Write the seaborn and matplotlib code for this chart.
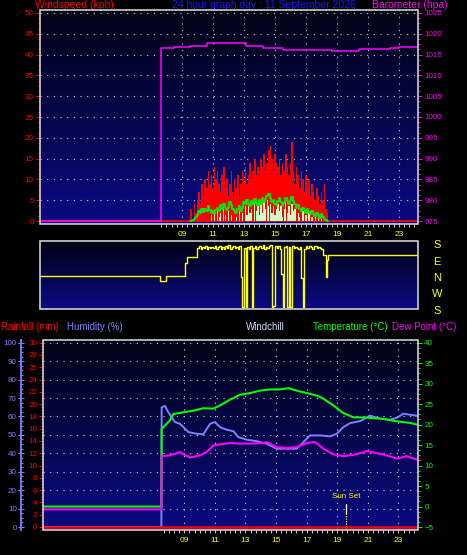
import numpy as np
import matplotlib
matplotlib.use("Agg")
import matplotlib.pyplot as plt
import seaborn as sns
from matplotlib.colors import LinearSegmentedColormap
from matplotlib.patches import Rectangle
from matplotlib.ticker import MultipleLocator, FixedLocator

# ---- data (hours of the day) ----
wind_hours = np.round(np.arange(9.5, 18.45, 0.1), 1)
wind_gust = [0, 3, 0, 4, 2, 5, 7, 4, 9, 6,
             10, 8, 12, 9, 11, 8, 13, 10, 12, 9,
             7, 11, 13, 8, 10, 6, 9, 12, 7, 10,
             8, 11, 6, 9, 12, 10, 13, 9, 11, 14,
             10, 12, 15, 11, 13, 12, 15, 13, 16, 12,
             14, 17, 18, 15, 12, 16, 14, 13, 15, 11,
             14, 12, 16, 13, 11, 14, 19, 12, 9, 13,
             11, 8, 12, 10, 7, 11, 8, 10, 6, 9,
             7, 5, 8, 6, 4, 7, 5, 9, 3, 2]
wind_speed = [0, 0, 0, 0, 0, 0, 0, 0, 0, 0,
              0, 0, 0, 0, 1.5, 0, 2.5, 0, 3.0, 1.0,
              2.0, 0, 3.5, 1.5, 0, 2.5, 0, 1.5, 0, 0,
              1.0, 0, 3.0, 0, 2.0, 0, 3.5, 1.5, 4.0, 2.0,
              3.0, 0, 4.5, 2.5, 3.5, 1.5, 4.0, 2.0, 4.5, 3.0,
              5.0, 3.5, 4.0, 2.0, 3.5, 1.5, 3.0, 4.0, 2.5, 3.5,
              1.0, 3.0, 4.5, 2.0, 3.5, 1.5, 4.0, 2.5, 3.0, 0,
              2.0, 1.0, 0, 2.5, 0, 1.5, 0, 2.0, 0, 1.0,
              0, 1.5, 0, 1.0, 0, 0.5, 0, 0, 0, 0]
wind_avg = [0, 0, 0.3, 0.5, 1.0, 1.5, 2.5, 2.0, 2.8, 2.2,
            3.0, 2.5, 3.5, 2.6, 2.0, 2.4, 1.8, 2.6, 3.2, 2.5,
            3.8, 3.0, 4.0, 3.2, 2.6, 3.4, 4.5, 3.8, 3.0, 2.4,
            2.0, 2.8, 3.5, 2.5, 3.2, 4.5, 4.0, 5.0, 4.2, 3.6,
            4.8, 4.0, 5.2, 4.4, 3.8, 5.0, 4.2, 5.5, 4.6, 5.2,
            6.0, 6.4, 5.5, 4.6, 5.0, 4.2, 3.8, 4.8, 5.5, 4.5,
            3.6, 4.4, 5.6, 4.8, 4.0, 5.0, 5.8, 4.8, 4.0, 3.2,
            3.8, 3.0, 2.4, 3.2, 2.6, 2.0, 2.8, 2.2, 1.6, 2.4,
            1.8, 1.2, 2.0, 1.4, 0.8, 1.6, 1.0, 0.4, 0.2, 0]

baro_hours = [-0.2, 7.65, 7.66, 8.5, 9.5, 10.6, 11.5, 12.1, 13.1, 14.2,
              15.5, 17.9, 18.7, 19.8, 20.4, 22.4, 23.0, 24.2]
baro_hpa = [975, 975, 1016.6, 1016.8, 1017.1, 1017.7, 1017.8, 1017.7, 1017.0, 1016.6,
            1016.2, 1016.0, 1015.8, 1015.8, 1016.4, 1016.6, 1016.8, 1016.8]

# wind direction: 0 = N, 90 = E, +/-180 = S, -90 = W
dir_early_hours = [-0.2, 7.58, 7.95, 9.19, 9.3]
dir_early_deg = [11, -16, 11, 82, 113]
dir_mid_hours = np.round(np.arange(10.0, 18.05, 0.1), 1)
dir_mid_deg = [165, 172, 160, 170, 163, 175, 158, 168, 162, 171,
               166, 174, 159, 168, 176, 161, 170, 157, 172, 165,
               178, 160, 169, 174, 162, 171, 158, 175, 5, -158,
               165, -158, 170, 158, 172, -160, 164, 176, 161, 170,
               175, 163, 178, 160, 171, 166, 176, 178, -160, -155,
               172, 165, 176, 160, 20, -158, 168, 174, -160, 170,
               -158, 175, 162, 171, 166, 158, 170, 0, -160, 160,
               172, 165, 176, 168, 161, 172, 174, 163, 170, 166,
               160]
dir_late_hours = [18.1, 18.3, 18.35, 18.4, 24.2]
dir_late_deg = [126, 5, 100, 126, 126]
dir_hours = dir_early_hours + list(dir_mid_hours) + dir_late_hours
dir_deg = dir_early_deg + dir_mid_deg + dir_late_deg

temp_hours = [-0.2, 7.5, 7.52, 8.06, 8.28, 8.94, 9.59, 10.24, 10.9, 11.34,
              11.99, 12.64, 13.3, 13.95, 14.6, 15.26, 15.8, 16.35, 17.0, 17.66,
              18.1, 18.74, 19.4, 20.05, 20.9, 22.0, 22.9, 23.8, 24.2]
temp_c = [0, 0, 19.0, 21.0, 22.6, 23.0, 23.4, 24.0, 23.9, 24.7,
          26.1, 27.3, 27.7, 28.3, 28.6, 28.6, 28.9, 28.3, 27.7, 27.1,
          26.3, 24.7, 22.8, 21.8, 21.7, 21.4, 20.8, 20.4, 20.0]

hum_hours = [-0.2, 7.5, 7.52, 7.74, 7.95, 8.17, 8.4, 8.72, 8.94, 9.27,
             9.81, 10.24, 10.68, 11.0, 11.34, 11.77, 12.21, 12.53, 13.08, 13.73,
             14.39, 15.04, 15.7, 16.35, 16.79, 17.22, 17.88, 18.53, 18.97, 19.4,
             19.84, 20.5, 21.14, 21.8, 22.45, 22.9, 23.32, 24.2]
hum_pct = [0, 0, 65, 65.7, 62.3, 59.6, 56.9, 56, 54.2, 51.5,
           50.6, 50.3, 56, 57, 54.2, 52.8, 52, 48.8, 47.4, 46.6,
           45.2, 42.5, 42.5, 42.5, 46.1, 49.7, 49.7, 49.2, 50.6, 54.2,
           56.4, 57.5, 60.5, 58.8, 58.2, 59.3, 61.5, 60.4]

dew_hours = [-0.2, 7.5, 7.52, 8.06, 8.72, 8.94, 9.38, 10.02, 10.46, 10.9,
             11.34, 11.99, 12.64, 13.3, 13.95, 14.39, 15.04, 15.7, 16.35, 17.0,
             17.55, 18.1, 18.74, 19.4, 20.27, 20.92, 21.58, 22.23, 22.88, 23.54,
             24.2]
dew_c = [-0.7, -0.7, 12.3, 12.5, 13.3, 12.75, 11.95, 12.5, 13.3, 14.9,
         15.2, 15.5, 15.35, 15.35, 15.5, 15.7, 14.5, 14.3, 14.5, 15.5,
         15.75, 14.1, 12.75, 12.3, 12.75, 13.55, 13.05, 12.5, 11.7, 12.3,
         11.45]

rain_hours = [-0.2, 24.2]
rain_mm = [0, 0]

sunset_hour = 19.6
hour_ticks = [9, 11, 13, 15, 17, 19, 21, 23]
hour_labels = ["09", "11", "13", "15", "17", "19", "21", "23"]
dir_labels = ["S", "E", "N", "W", "S"]

# ---- style ----
sns.set_theme(style="dark", rc={"figure.facecolor": "black", "axes.facecolor": "black"})
plt.rcParams["font.family"] = ["Liberation Sans", "DejaVu Sans"]

W, H = 467, 555
fig = plt.figure(figsize=(W / 100, H / 100), dpi=100, facecolor="black")


def box(l, t, r, b):
    return [l / W, 1 - b / H, (r - l) / W, (b - t) / H]


sky = LinearSegmentedColormap.from_list("sky", ["#020214", "#0a0a84"])
grid_kw = dict(color="#d0d0d0", linestyle=(0, (1, 5)), linewidth=0.8)
frame_color = "#e0e0e0"


def paint(ax):
    ax.imshow(np.linspace(0, 1, 256).reshape(-1, 1), cmap=sky, aspect="auto",
              extent=[0, 1, 0, 1], transform=ax.transAxes, zorder=0)
    for s in ax.spines.values():
        s.set_visible(False)


def frame(l, t, r, b):
    fig.patches.append(Rectangle((l / W, 1 - b / H), (r - l) / W, (b - t) / H,
                                 transform=fig.transFigure, fill=False,
                                 edgecolor=frame_color, linewidth=1.1, zorder=10))


def hour_axis(ax):
    ax.set_xticks(hour_ticks)
    ax.set_xticklabels(hour_labels)
    ax.xaxis.set_minor_locator(FixedLocator(np.arange(23, 73) / 3))
    ax.tick_params(axis="x", which="both", bottom=True, direction="out", length=2.5,
                   width=0.7, color="#c8c8c8", labelcolor="#ffff00", labelsize=6, pad=2.5)


# ---- panel 1: wind speed + barometer ----
ax_w = fig.add_axes(box(40, 10, 418, 224))
paint(ax_w)
ax_w.bar(wind_hours, wind_gust, width=0.1, color="#ff0000", linewidth=0, zorder=2)
ax_w.bar(wind_hours, wind_speed, width=0.085, color="#ccffcc", linewidth=0, zorder=3)
sns.lineplot(x=wind_hours, y=wind_avg, ax=ax_w, color="#00ee00", linewidth=1.3,
             drawstyle="steps-mid", estimator=None, sort=False, zorder=4)
ax_w.axhline(0, color="#ff0000", linewidth=1.3, zorder=2)
ax_w.set_xlim(-0.16, 24.23)
ax_w.set_ylim(-0.72, 50.72)
ax_w.set_yticks(range(0, 51, 5))
ax_w.yaxis.set_minor_locator(MultipleLocator(1.25))
ax_w.tick_params(axis="y", which="both", left=True, direction="out", colors="#ff0000",
                 labelsize=5.8, width=0.7, pad=1.5)
ax_w.tick_params(axis="y", which="major", length=3)
ax_w.tick_params(axis="y", which="minor", length=1.6)
hour_axis(ax_w)
ax_w.grid(True, axis="both", which="major", **grid_kw)
ax_w.set_xlabel("")
ax_w.set_ylabel("")

ax_b = ax_w.twinx()
sns.lineplot(x=baro_hours, y=baro_hpa, ax=ax_b, color="#ff00ff", linewidth=1.1,
             drawstyle="steps-post", estimator=None, sort=False)
for s in ax_b.spines.values():
    s.set_visible(False)
ax_b.grid(False)
ax_b.set_ylim(975 - 0.72, 1025 + 0.72)
ax_b.set_yticks(range(975, 1026, 5))
ax_b.yaxis.set_minor_locator(MultipleLocator(1.25))
ax_b.tick_params(axis="y", which="both", right=True, direction="out", colors="#ff00ff",
                 labelsize=5.8, width=0.7, pad=1.5)
ax_b.tick_params(axis="y", which="major", length=3)
ax_b.tick_params(axis="y", which="minor", length=1.6)
ax_b.set_ylabel("")
ax_w.set_xlim(-0.16, 24.23)
frame(40, 10, 418, 224)

# ---- panel 2: wind direction ----
ax_d = fig.add_axes(box(40, 241, 418, 309))
paint(ax_d)
sns.lineplot(x=dir_hours, y=dir_deg, ax=ax_d, color="#ffff00", linewidth=1.0,
             drawstyle="steps-post", estimator=None, sort=False)
ax_d.set_xlim(-0.16, 24.23)
ax_d.set_ylim(-169, 202)
ax_d.set_xticks([])
ax_d.set_yticks([])
ax_d.set_xlabel("")
ax_d.set_ylabel("")
frame(40, 241, 418, 309)
for lab, ypix in zip(dir_labels, [245, 262, 278, 294, 311]):
    fig.text(437 / W, 1 - ypix / H, lab, color="#ffff00", fontsize=8,
             ha="center", va="center")

# ---- panel 3: rain, humidity, temperature, dew point ----
ax_h = fig.add_axes(box(43, 340, 418, 530))
paint(ax_h)
sns.lineplot(x=hum_hours, y=hum_pct, ax=ax_h, color="#8080ff", linewidth=1.4,
             estimator=None, sort=False)
ax_h.set_xlim(-0.24, 24.28)
ax_h.set_ylim(-1.62, 101.5)
ax_h.set_yticks(range(0, 101, 10))
ax_h.yaxis.set_minor_locator(MultipleLocator(2.5))
ax_h.spines["left"].set_visible(True)
ax_h.spines["left"].set_position(("outward", 15.6))
ax_h.spines["left"].set_color("#8080ff")
ax_h.spines["left"].set_linewidth(1.3)
ax_h.tick_params(axis="y", which="both", left=True, colors="#8080ff", labelsize=5.8,
                 width=0.8, pad=1.2)
ax_h.tick_params(axis="y", which="major", direction="inout", length=4)
ax_h.tick_params(axis="y", which="minor", direction="in", length=1.5)
hour_axis(ax_h)
ax_h.grid(True, axis="both", which="major", **grid_kw)
ax_h.set_xlabel("")
ax_h.set_ylabel("")

ax_tc = ax_h.twinx()
sns.lineplot(x=temp_hours, y=temp_c, ax=ax_tc, color="#00ff00", linewidth=1.5,
             estimator=None, sort=False)
sns.lineplot(x=dew_hours, y=dew_c, ax=ax_tc, color="#ff00ff", linewidth=1.5,
             estimator=None, sort=False)
for s in ax_tc.spines.values():
    s.set_visible(False)
ax_tc.grid(False)
ax_tc.set_ylim(-5.73, 40.66)
ax_tc.set_yticks(range(-5, 41, 5))
ax_tc.yaxis.set_minor_locator(MultipleLocator(1.25))
ax_tc.tick_params(axis="y", which="both", right=True, direction="out", colors="#00ff00",
                  labelsize=5.8, width=0.7, pad=1.5)
ax_tc.tick_params(axis="y", which="major", length=3)
ax_tc.tick_params(axis="y", which="minor", length=1.6)
ax_tc.set_ylabel("")
# sunset marker
ax_tc.plot([sunset_hour, sunset_hour], [0.6, -1.6], color="white", linewidth=0.9, zorder=5)
ax_tc.plot([sunset_hour, sunset_hour], [-1.6, -5.73], color="#ffff00", linewidth=0.9,
           linestyle=(0, (1, 1)), zorder=5)
ax_tc.text(sunset_hour, 2.4, "Sun Set", color="#ffff00", fontsize=5.8,
           ha="center", va="center")

ax_r = ax_h.twinx()
sns.lineplot(x=rain_hours, y=rain_mm, ax=ax_r, color="#ff0000", linewidth=1.8,
             estimator=None, sort=False)
for s in ax_r.spines.values():
    s.set_visible(False)
ax_r.grid(False)
ax_r.yaxis.tick_left()
ax_r.set_ylim(-0.49, 30.44)
ax_r.set_yticks(range(0, 31, 2))
ax_r.yaxis.set_minor_locator(MultipleLocator(0.5))
ax_r.tick_params(axis="y", which="both", left=True, right=False, labelleft=True,
                 labelright=False, direction="out", colors="#ff0000", labelsize=5.8,
                 width=0.7, pad=1.2)
ax_r.tick_params(axis="y", which="major", length=3)
ax_r.tick_params(axis="y", which="minor", length=1.2)
ax_r.set_ylabel("")
ax_h.set_xlim(-0.24, 24.28)
frame(43, 340, 418, 530)

# ---- header texts ----
top_y = 1 - 5.5 / H
fig.text(35 / W, top_y, "Windspeed (kph)", color="#ff0000", fontsize=7.5, va="center")
fig.text(172 / W, top_y, "24 hour graph day : 11 September 2026", color="#1818ff",
         fontsize=7.5, va="center")
fig.text(372 / W, top_y, "Barometer (hpa)", color="#ff00ff", fontsize=7.5, va="center")

mid_y = 1 - 327 / H
fig.text(1 / W, mid_y, "Rainfall (mm)", color="#ff0000", fontsize=7, va="center")
fig.text(67 / W, mid_y, "Humidity (%)", color="#8080ff", fontsize=7, va="center")
fig.text(246 / W, mid_y, "Windchill", color="#c8dcff", fontsize=7, va="center")
fig.text(313 / W, mid_y, "Temperature (°C)", color="#00ff00", fontsize=7, va="center")
fig.text(392 / W, mid_y, "Dew Point (°C)", color="#ff00ff", fontsize=7, va="center")

plt.savefig("out.png", dpi=100, facecolor="black")
